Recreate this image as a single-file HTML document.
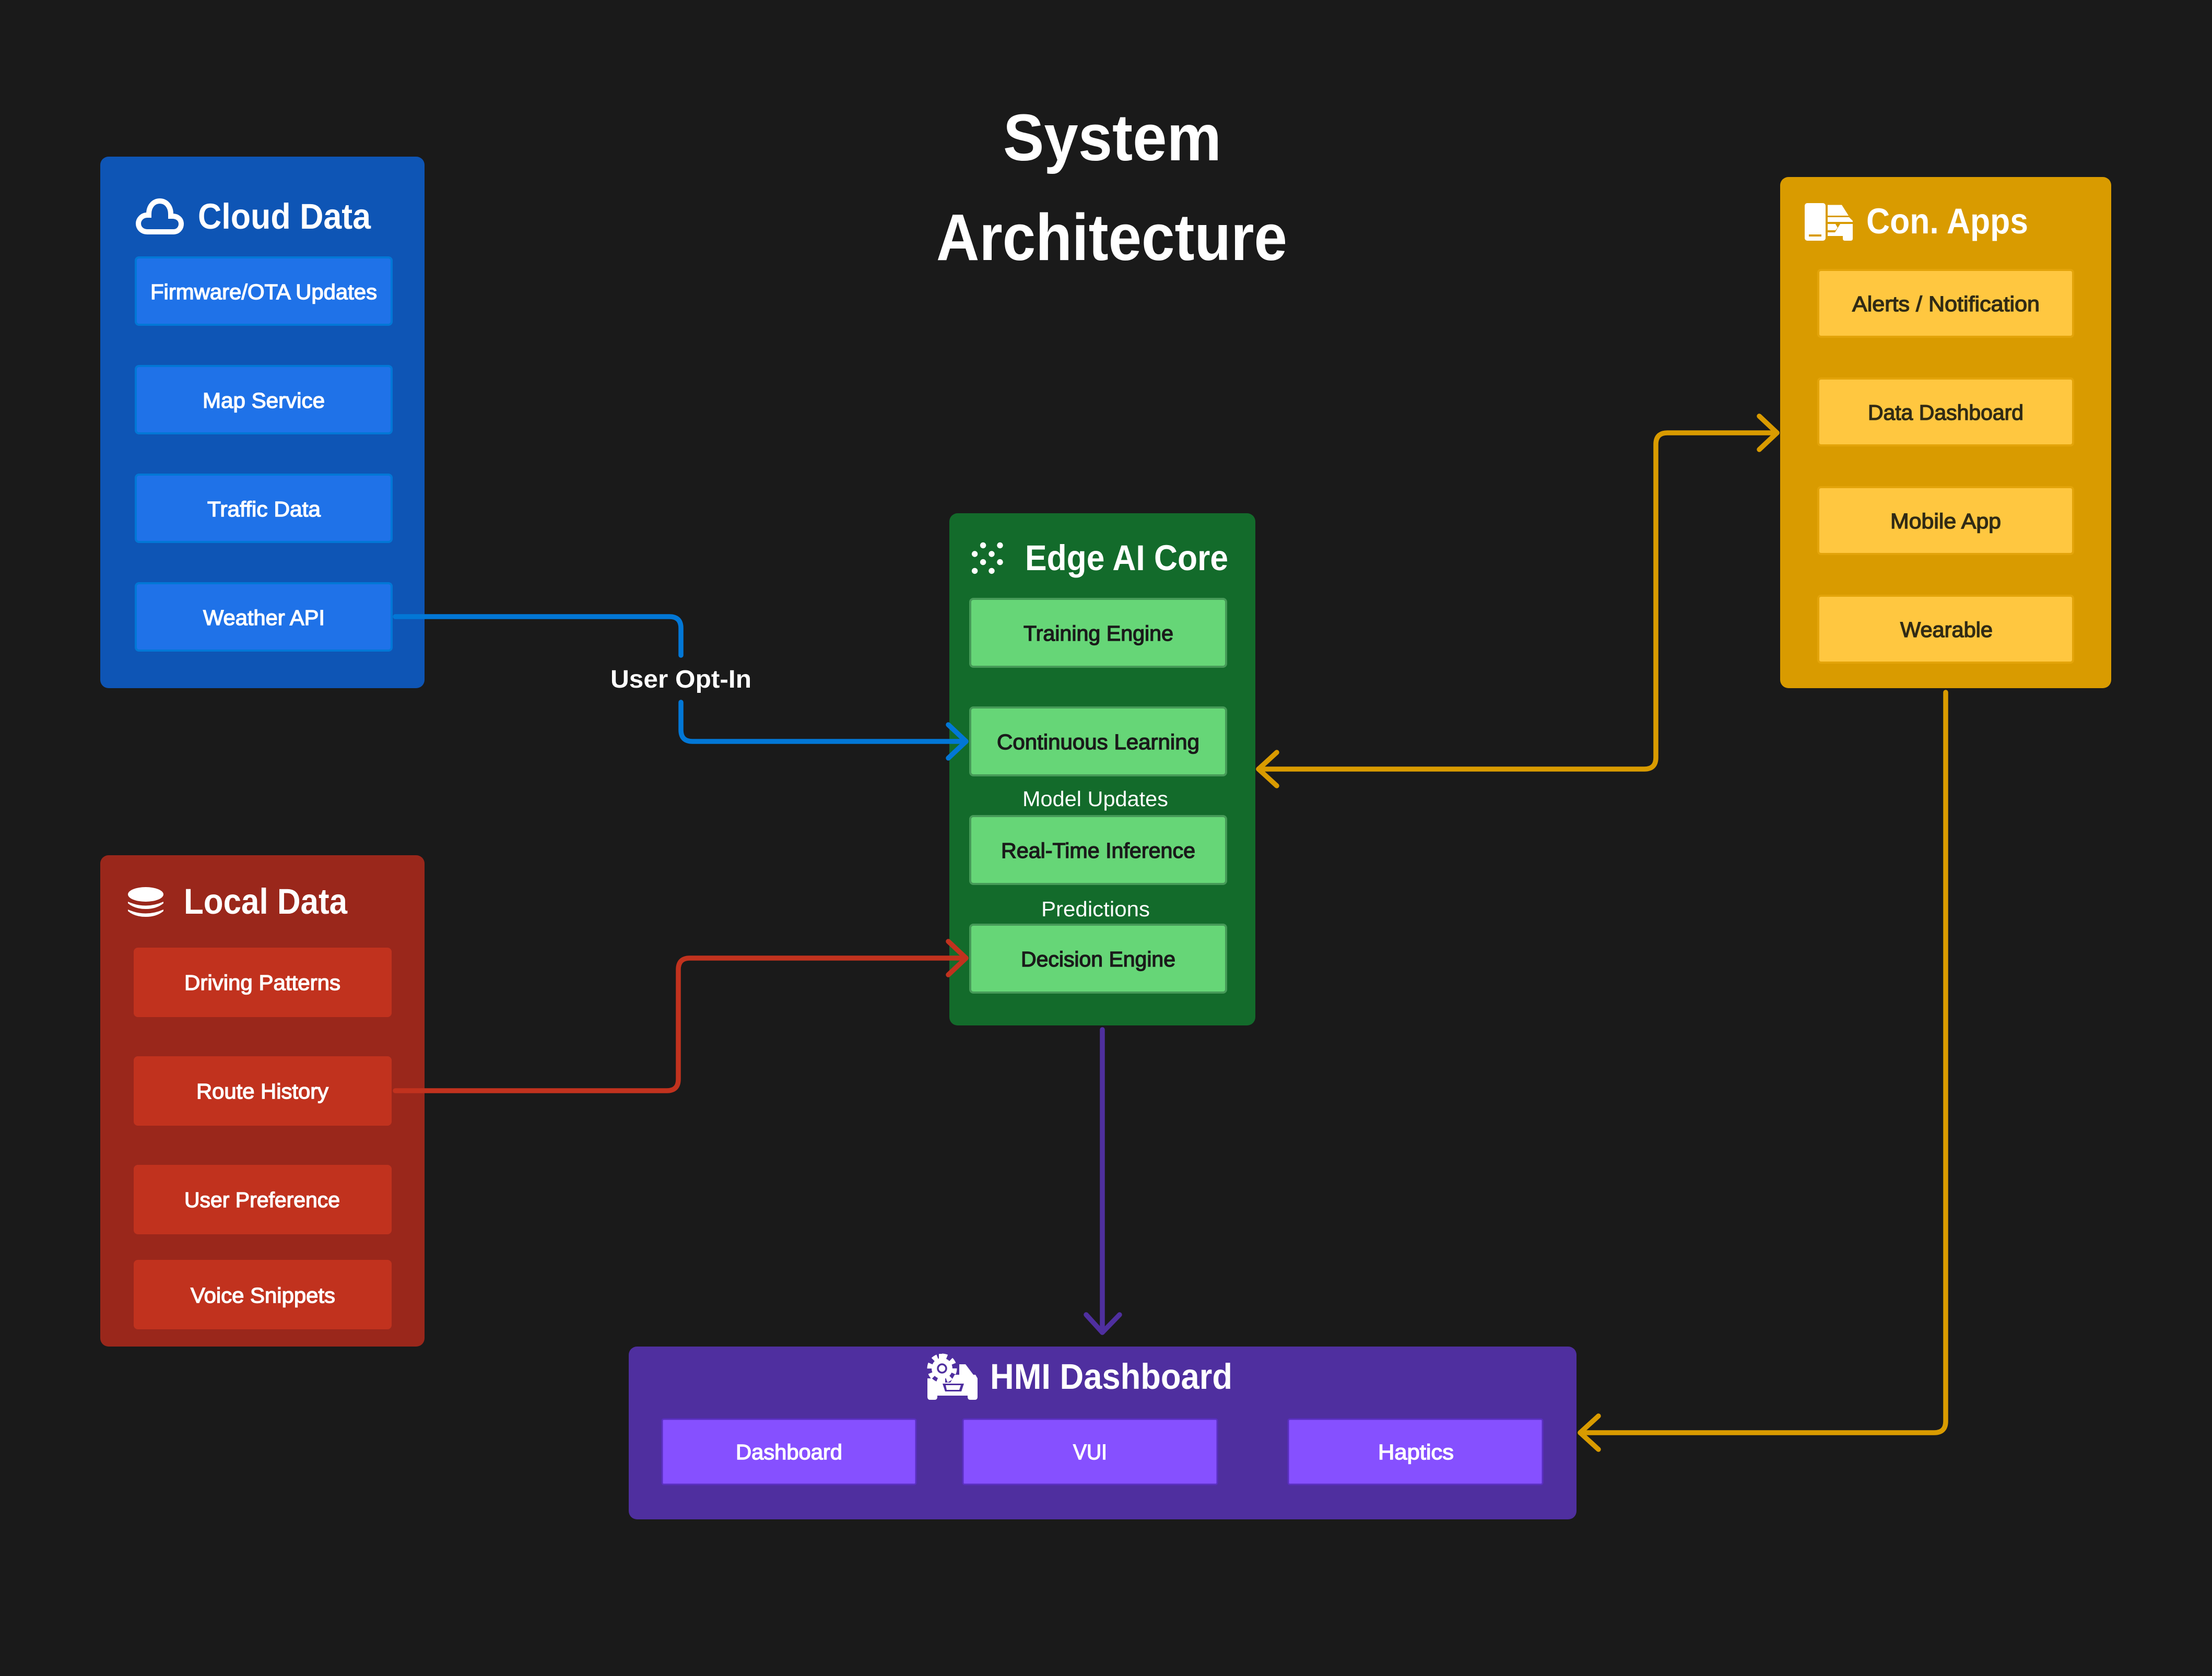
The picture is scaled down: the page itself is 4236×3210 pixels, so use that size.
<!DOCTYPE html>
<html><head><meta charset="utf-8"><title>System Architecture</title>
<style>
html,body{margin:0;padding:0;background:#1a1a1a;width:4236px;height:3210px;overflow:hidden}
svg{display:block}
text{font-family:"Liberation Sans",sans-serif}
.h{font-size:69px;font-weight:700;fill:#fff}
.l{font-size:41px;fill:#fff;stroke:#fff;stroke-width:1.4px}
.d{font-size:41px;fill:#1a1a1a;stroke:#1a1a1a;stroke-width:1.4px}
.y{font-size:41px;fill:#312b15;stroke:#312b15;stroke-width:1.4px}
.t{font-size:126px;font-weight:700;fill:#fff}
.c{fill:none;stroke-width:9.5;stroke-linecap:round;stroke-linejoin:round}
</style></head><body>
<svg width="4236" height="3210" viewBox="0 0 4236 3210" xmlns="http://www.w3.org/2000/svg">
<rect width="4236" height="3210" fill="#1a1a1a"/>

<text class="t" x="1921" y="307" textLength="418" lengthAdjust="spacingAndGlyphs">System</text>
<text class="t" x="1793" y="498" textLength="672" lengthAdjust="spacingAndGlyphs">Architecture</text>

<!-- Cloud -->
<rect x="192" y="300" width="621" height="1018" rx="16" fill="#0e55b5"/>
<path d="M282 444H332C342 444 347 436 347 429C347 420 340 414 330 414H327V410C327 395 318 385 306 385C294 385 285 395 285 410V412H282C272 412 265 420 265 428C265 437 272 444 282 444Z" fill="none" stroke="#fff" stroke-width="10"/>
<text class="h" x="379" y="438" textLength="331" lengthAdjust="spacingAndGlyphs">Cloud Data</text>
<g fill="#1f72e8" stroke="#0277d6" stroke-width="4">
<rect x="260" y="493" width="490" height="129" rx="6"/>
<rect x="260" y="701" width="490" height="129" rx="6"/>
<rect x="260" y="909" width="490" height="129" rx="6"/>
<rect x="260" y="1117" width="490" height="129" rx="6"/>
</g>
<text class="l" x="288" y="573" textLength="434" lengthAdjust="spacingAndGlyphs">Firmware/OTA Updates</text>
<text class="l" x="388" y="781" textLength="234" lengthAdjust="spacingAndGlyphs">Map Service</text>
<text class="l" x="397" y="989" textLength="217" lengthAdjust="spacingAndGlyphs">Traffic Data</text>
<text class="l" x="389" y="1197" textLength="233" lengthAdjust="spacingAndGlyphs">Weather API</text>

<!-- Local -->
<rect x="192" y="1638" width="621" height="941" rx="16" fill="#9a271b"/>
<ellipse cx="279" cy="1713" rx="34" ry="14" fill="#fff"/>
<path d="M245 1727Q279 1742 313 1727L313 1730Q300 1741 279 1741Q258 1741 245 1730Z" fill="#fff"/>
<path d="M245 1742Q279 1757 313 1742L313 1745Q300 1756 279 1756Q258 1756 245 1745Z" fill="#fff"/>
<text class="h" x="352" y="1750" textLength="313" lengthAdjust="spacingAndGlyphs">Local Data</text>
<g fill="#c1321e">
<rect x="256" y="1815" width="494" height="133" rx="8"/>
<rect x="256" y="2023" width="494" height="133" rx="8"/>
<rect x="256" y="2231" width="494" height="133" rx="8"/>
<rect x="256" y="2413" width="494" height="133" rx="8"/>
</g>
<text class="l" x="353" y="1896" textLength="299" lengthAdjust="spacingAndGlyphs">Driving Patterns</text>
<text class="l" x="376" y="2104" textLength="253" lengthAdjust="spacingAndGlyphs">Route History</text>
<text class="l" x="353" y="2312" textLength="298" lengthAdjust="spacingAndGlyphs">User Preference</text>
<text class="l" x="365" y="2495" textLength="277" lengthAdjust="spacingAndGlyphs">Voice Snippets</text>

<!-- Edge -->
<rect x="1818" y="983" width="586" height="981" rx="16" fill="#136b2b"/>
<g fill="#fff">
<circle cx="1882.6" cy="1044.5" r="5.7"/><circle cx="1915" cy="1044.5" r="5.7"/>
<circle cx="1866.6" cy="1061" r="5.7"/><circle cx="1899" cy="1061" r="5.7"/>
<circle cx="1882.6" cy="1076.6" r="5.7"/><circle cx="1915" cy="1076.6" r="5.7"/>
<circle cx="1866.6" cy="1093.4" r="5.7"/><circle cx="1899" cy="1093.4" r="5.7"/>
</g>
<text class="h" x="1963" y="1092" textLength="389" lengthAdjust="spacingAndGlyphs">Edge AI Core</text>
<g fill="#66d677" stroke="#469a58" stroke-width="4">
<rect x="1858" y="1147" width="490" height="130" rx="6"/>
<rect x="1858" y="1355" width="490" height="130" rx="6"/>
<rect x="1858" y="1563" width="490" height="130" rx="6"/>
<rect x="1858" y="1771" width="490" height="130" rx="6"/>
</g>
<text class="d" x="1960" y="1227" textLength="287" lengthAdjust="spacingAndGlyphs">Training Engine</text>
<text class="d" x="1909" y="1435" textLength="388" lengthAdjust="spacingAndGlyphs">Continuous Learning</text>
<text class="d" x="1917" y="1643" textLength="372" lengthAdjust="spacingAndGlyphs">Real-Time Inference</text>
<text class="d" x="1955" y="1851" textLength="296" lengthAdjust="spacingAndGlyphs">Decision Engine</text>
<text x="1958" y="1544" font-size="41" fill="#fff" textLength="279" lengthAdjust="spacingAndGlyphs">Model Updates</text>
<text x="1994" y="1755" font-size="41" fill="#fff" textLength="208" lengthAdjust="spacingAndGlyphs">Predictions</text>

<!-- Con. Apps -->
<rect x="3409" y="339" width="634" height="979" rx="16" fill="#d99b00"/>
<rect x="3456" y="389" width="40" height="72" rx="5" fill="#fff"/>
<rect x="3464" y="449" width="24" height="4" fill="#d99b00"/>
<path d="M3500 392.500H3527L3540 413H3500Z" fill="#fff"/>
<path d="M3500 416H3541L3548 423V425H3500Z" fill="#fff"/>
<path d="M3500 429H3515L3519 436L3515 441H3500Z" fill="#fff"/>
<path d="M3500 445H3514L3524 429H3548V457Q3548 461 3544 461H3533Q3529 461 3529 457V452H3500Z" fill="#fff"/>
<text class="h" x="3574" y="447" textLength="310" lengthAdjust="spacingAndGlyphs">Con. Apps</text>
<g fill="#ffc740" stroke="#e3a40a" stroke-width="4">
<rect x="3482" y="517" width="488" height="128" rx="5"/>
<rect x="3482" y="725" width="488" height="128" rx="5"/>
<rect x="3482" y="933" width="488" height="128" rx="5"/>
<rect x="3482" y="1141" width="488" height="128" rx="5"/>
</g>
<text class="y" x="3547" y="596" textLength="359" lengthAdjust="spacingAndGlyphs">Alerts / Notification</text>
<text class="y" x="3577" y="804" textLength="298" lengthAdjust="spacingAndGlyphs">Data Dashboard</text>
<text class="y" x="3620" y="1012" textLength="212" lengthAdjust="spacingAndGlyphs">Mobile App</text>
<text class="y" x="3639" y="1220" textLength="177" lengthAdjust="spacingAndGlyphs">Wearable</text>

<!-- HMI -->
<rect x="1204" y="2579" width="1815" height="331" rx="16" fill="#4f2f9f"/>
<path d="M1837 2613H1849L1864 2633H1868L1872 2640V2675Q1872 2681 1867 2681H1858Q1853 2681 1853 2675V2673H1795V2675Q1795 2681 1790 2681H1781Q1776 2681 1776 2675V2640L1784 2640L1800 2648H1820L1828 2633H1837Z" fill="#fff"/>
<path d="M1805 2650H1846L1841 2665H1810Z" fill="#4f2f9f"/>
<path d="M1811 2653H1840L1837 2662H1813Z" fill="#fff"/>
<circle cx="1804" cy="2621" r="27" fill="#4f2f9f"/>
<circle cx="1804" cy="2621" r="20" fill="#fff"/>
<circle cx="1804" cy="2621" r="24" fill="none" stroke="#fff" stroke-width="9" stroke-dasharray="9.800 9"/>
<rect x="1798" y="2593" width="12" height="55" fill="#fff"/>
<circle cx="1804" cy="2621" r="8" fill="#fff" stroke="#4f2f9f" stroke-width="3.500"/>
<text class="h" x="1896" y="2660" textLength="464" lengthAdjust="spacingAndGlyphs">HMI Dashboard</text>
<g fill="#8650ff" stroke="#5a2fc0" stroke-width="3">
<rect x="1268" y="2718" width="486" height="125" rx="3"/>
<rect x="1844" y="2718" width="487" height="125" rx="3"/>
<rect x="2467" y="2718" width="487" height="125" rx="3"/>
</g>
<text class="l" x="1409" y="2795" textLength="204" lengthAdjust="spacingAndGlyphs">Dashboard</text>
<text class="l" x="2055" y="2795" textLength="65" lengthAdjust="spacingAndGlyphs">VUI</text>
<text class="l" x="2639" y="2795" textLength="145" lengthAdjust="spacingAndGlyphs">Haptics</text>

<!-- Connectors -->
<g class="c" stroke="#0277d6">
<path class="c" d="M757 1181H1282Q1304 1181 1304 1203V1255"/>
<path class="c" d="M1304 1345V1398Q1304 1420 1326 1420H1850"/>
<path class="c" d="M1816 1388L1850 1420L1816 1452"/>
</g>
<text x="1169" y="1317" font-size="48" font-weight="700" fill="#fff" textLength="270" lengthAdjust="spacingAndGlyphs">User Opt-In</text>
<g class="c" stroke="#c1321e">
<path class="c" d="M757 2089H1277Q1299 2089 1299 2067V1857Q1299 1835 1321 1835H1850"/>
<path class="c" d="M1816 1803L1850 1835L1816 1867"/>
</g>
<g class="c" stroke="#d99b00">
<path class="c" d="M2410 1473H3149Q3171 1473 3171 1451V851Q3171 829 3193 829H3403"/>
<path class="c" d="M2445 1441L2410 1473L2445 1505"/>
<path class="c" d="M3369 797L3403 829L3369 861"/>
<path class="c" d="M3726 1326V2722Q3726 2744 3704 2744H3026"/>
<path class="c" d="M3061 2712L3026 2744L3061 2776"/>
</g>
<g class="c" stroke="#4f2f9f">
<path class="c" d="M2111 1972V2552"/>
<path class="c" d="M2080 2518L2111 2552L2144 2518"/>
</g>
</svg>
</body></html>
